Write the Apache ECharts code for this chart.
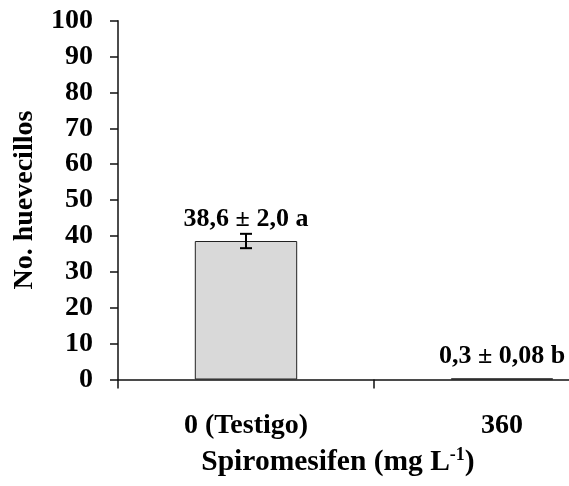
<!DOCTYPE html>
<html>
<head>
<meta charset="utf-8">
<script src="https://cdn.jsdelivr.net/npm/echarts@6/dist/echarts.min.js"></script>
<style>html,body{margin:0;padding:0;background:#fff;overflow:hidden}#c{width:632px;height:486px}</style>
</head>
<body>
<div id="c"></div>
<script>
const categories = ['0 (Testigo)', '360'];
const means = [38.6, 0.3];
const errors = [2.0, 0.08];
const barLabels = ['38,6 \u00b1 2,0 a', '0,3 \u00b1 0,08 b'];
const yTicks = { min: 0, max: 100, interval: 10 };

const FONT = '"Liberation Serif", "Times New Roman", serif';
const chart = echarts.init(document.getElementById('c'), null, { renderer: 'canvas' });

const errData = means.map((m, i) => [i, m - errors[i], m + errors[i]]);

chart.setOption({
  animation: false,
  backgroundColor: '#fff',
  grid: { left: 118, right: 2, top: 20.7, bottom: 106.5, containLabel: false, outerBoundsMode: 'none' },
  xAxis: {
    type: 'category',
    data: categories,
    boundaryGap: true,
    axisLine: { lineStyle: { color: '#111', width: 1.5 } },
    axisTick: { show: true, length: 9, inside: false, lineStyle: { color: '#111', width: 1.5 } },
    axisLabel: { margin: 32, color: '#000', fontFamily: FONT, fontWeight: 'bold', fontSize: 28 },
    name: '{a|Spiromesifen (mg L}{s|-1}{a|)}',
    nameLocation: 'middle',
    nameGap: 67,
    nameTextStyle: {
      padding: [0, 72, 0, 0],
      rich: {
        a: { fontFamily: FONT, fontWeight: 'bold', fontSize: 29.5, color: '#000', lineHeight: 31 },
        s: { fontFamily: FONT, fontWeight: 'bold', fontSize: 18, color: '#000', verticalAlign: 'top', lineHeight: 31, padding: [0, 0, 14, 0] }
      }
    }
  },
  yAxis: {
    type: 'value',
    min: yTicks.min, max: yTicks.max, interval: yTicks.interval,
    splitLine: { show: false },
    axisLine: { show: true, lineStyle: { color: '#111', width: 1.5 } },
    axisTick: { show: true, length: 8, inside: false, lineStyle: { color: '#111', width: 1.5 } },
    axisLabel: { margin: 25, color: '#000', fontFamily: FONT, fontWeight: 'bold', fontSize: 28 },
    name: 'No. huevecillos',
    nameLocation: 'middle',
    nameGap: 79,
    nameTextStyle: { color: '#000', fontFamily: FONT, fontWeight: 'bold', fontSize: 28 }
  },
  series: [
    {
      type: 'bar',
      data: means,
      barWidth: '40%',
      itemStyle: { color: '#d9d9d9', borderColor: '#222', borderWidth: 1 },
      label: {
        show: true, position: 'top', distance: 9,
        formatter: p => barLabels[p.dataIndex],
        color: '#000', fontFamily: FONT, fontWeight: 'bold', fontSize: 26
      },
      z: 2
    },
    {
      type: 'custom',
      data: errData,
      z: 3,
      renderItem: function (params, api) {
        const x = api.value(0);
        const lo = api.coord([x, api.value(1)]);
        const hi = api.coord([x, api.value(2)]);
        if (Math.abs(lo[1] - hi[1]) < 2) return null;
        const hw = 6;
        const st = { stroke: '#000', lineWidth: 2 };
        return {
          type: 'group',
          children: [
            { type: 'line', shape: { x1: lo[0], y1: lo[1], x2: hi[0], y2: hi[1] }, style: st },
            { type: 'line', shape: { x1: lo[0] - hw, y1: lo[1], x2: lo[0] + hw, y2: lo[1] }, style: st },
            { type: 'line', shape: { x1: hi[0] - hw, y1: hi[1], x2: hi[0] + hw, y2: hi[1] }, style: st }
          ]
        };
      }
    }
  ]
});
</script>
</body>
</html>
